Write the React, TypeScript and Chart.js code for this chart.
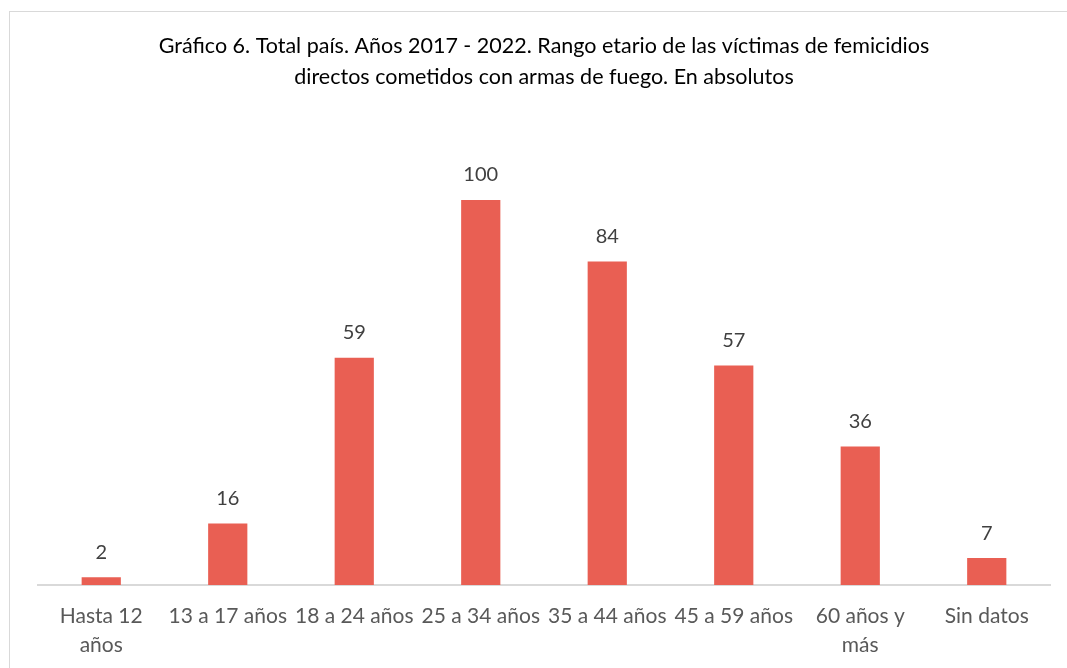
import React, { useEffect, useRef } from "react";
import { Chart, registerables } from "chart.js";

Chart.register(...registerables);

const titleLines = [
  "Gráfico 6. Total país. Años 2017 - 2022. Rango etario de las víctimas de femicidios",
  "directos cometidos con armas de fuego. En absolutos",
];
const categories: (string | string[])[] = [
  ["Hasta 12", "años"],
  "13 a 17 años",
  "18 a 24 años",
  "25 a 34 años",
  "35 a 44 años",
  "45 a 59 años",
  ["60 años y", "más"],
  "Sin datos",
];
const values = [2, 16, 59, 100, 84, 57, 36, 7];

const FONT = "Lato, 'Open Sans', sans-serif";

const labelPlugin = {
  id: "barLabels",
  afterDatasetsDraw(chart: any) {
    const ctx = chart.ctx;
    const meta = chart.getDatasetMeta(0);
    ctx.save();
    ctx.font = `20px ${FONT}`;
    ctx.fillStyle = "#404040";
    ctx.textAlign = "center";
    ctx.textBaseline = "middle";
    meta.data.forEach((bar: any, i: number) => {
      ctx.fillText(String(values[i]), bar.x, bar.y - 25);
    });
    ctx.restore();
  },
};

export default function App() {
  const ref = useRef<HTMLCanvasElement | null>(null);
  useEffect(() => {
    document.body.style.margin = "0";
    document.body.style.overflow = "hidden";
    const chart = new Chart(ref.current!, {
      type: "bar",
      data: {
        labels: categories,
        datasets: [
          {
            data: values,
            backgroundColor: "#E95F53",
            barPercentage: 0.62,
            categoryPercentage: 0.5,
          },
        ],
      },
      options: {
        animation: false,
        responsive: false,
        layout: { padding: { left: 38, right: 17, top: 0, bottom: -8 } },
        plugins: {
          legend: { display: false },
          tooltip: { enabled: false },
          title: {
            display: true,
            text: titleLines,
            color: "#000000",
            font: { family: FONT, size: 21.5, weight: "normal", lineHeight: 1.44 },
            padding: { top: 31, bottom: 30 },
          },
        },
        scales: {
          x: {
            grid: { display: false, drawTicks: false },
            border: { display: true, color: "#d9d9d9", width: 2 },
            ticks: {
              color: "#595959",
              font: { family: FONT, size: 21, lineHeight: 1.38 },
              padding: 16.5,
              maxRotation: 0,
              autoSkip: false,
            },
          },
          y: {
            display: false,
            min: 0,
            max: 120,
          },
        },
      },
      plugins: [labelPlugin],
    });
    return () => chart.destroy();
  }, []);
  return (
    <div style={{ position: "fixed", left: 0, top: 0, width: 1067, height: 668, background: "#fff", overflow: "hidden" }}>
      <div
        style={{
          position: "absolute",
          left: 9,
          top: 11,
          width: 1200,
          height: 800,
          border: "1px solid #d9d9d9",
          boxSizing: "border-box",
        }}
      />
      <canvas ref={ref} width={1067} height={668} style={{ position: "absolute", left: 0, top: 0 }} />
    </div>
  );
}
